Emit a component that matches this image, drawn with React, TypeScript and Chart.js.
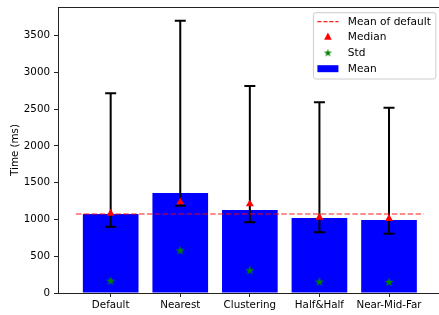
import React, { useEffect, useRef } from "react";
import { Chart, registerables } from "chart.js";

Chart.register(...registerables);

const categories = ["Default", "Nearest", "Clustering", "Half&Half", "Near-Mid-Far"];
const means = [1075, 1360, 1129, 1020, 993];
const errLow = [902, 1188, 961, 825, 807];
const errHigh = [2716, 3703, 2815, 2593, 2520];
const medians = [1083, 1237, 1210, 1029, 1010];
const stds = [167, 580, 309, 154, 150];
const meanOfDefault = 1075;
const yTicks = [0, 500, 1000, 1500, 2000, 2500, 3000, 3500];

const FONT = "'DejaVu Sans', sans-serif";
const FS = 10.3;
const LFS = 10.6;
const AX = "#222";

function makeStar(r: number, color: string) {
  const size = Math.ceil(r * 2 + 2);
  const c = document.createElement("canvas");
  c.width = size;
  c.height = size;
  const ctx = c.getContext("2d")!;
  const cx = size / 2, cy = size / 2 + 0.4;
  ctx.beginPath();
  for (let i = 0; i < 10; i++) {
    const rr = i % 2 === 0 ? r : r * 0.4;
    const a = -Math.PI / 2 + (i * Math.PI) / 5;
    const px = cx + rr * Math.cos(a);
    const py = cy + rr * Math.sin(a);
    if (i === 0) ctx.moveTo(px, py);
    else ctx.lineTo(px, py);
  }
  ctx.closePath();
  ctx.fillStyle = color;
  ctx.fill();
  return c;
}

export default function App() {
  const ref = useRef<HTMLCanvasElement>(null);
  useEffect(() => {
    const canvas = ref.current!;
    const star = makeStar(4.8, "#008000");
    const legendStar = makeStar(4.2, "#008000");

    const errorBars = {
      id: "errorBars",
      afterDatasetDraw(chart: any, args: any) {
        if (args.index !== 0) return;
        const { ctx, scales } = chart;
        const xs = scales.x, ys = scales.y;
        ctx.save();
        ctx.strokeStyle = "#000";
        ctx.lineWidth = 2;
        for (let i = 0; i < categories.length; i++) {
          const x = xs.getPixelForValue(i);
          const y1 = ys.getPixelForValue(errLow[i]);
          const y2 = ys.getPixelForValue(errHigh[i]);
          ctx.beginPath();
          ctx.moveTo(x, y1);
          ctx.lineTo(x, y2);
          ctx.moveTo(x - 5.5, y1);
          ctx.lineTo(x + 5.5, y1);
          ctx.moveTo(x - 5.5, y2);
          ctx.lineTo(x + 5.5, y2);
          ctx.stroke();
        }
        ctx.restore();
      },
    };

    const frame = {
      id: "frame",
      afterDraw(chart: any) {
        const { ctx, chartArea } = chart;
        ctx.save();
        ctx.strokeStyle = AX;
        ctx.lineWidth = 1;
        ctx.beginPath();
        ctx.moveTo(chartArea.left, Math.round(chartArea.top) + 0.5);
        ctx.lineTo(chartArea.right, Math.round(chartArea.top) + 0.5);
        ctx.stroke();

        // legend
        const labels = ["Mean of default", "Median", "Std", "Mean"];
        ctx.font = `${LFS}px ${FONT}`;
        const tw = Math.max(...labels.map((l) => ctx.measureText(l).width));
        const boxRight = chartArea.right - 5.3;
        const textX = boxRight - 5 - tw;
        const boxLeft = textX - 34.4;
        const boxTop = chartArea.top + 5.7;
        const boxH = 66.3;
        const r = 2.5;
        ctx.beginPath();
        ctx.moveTo(boxLeft + r, boxTop);
        ctx.arcTo(boxRight, boxTop, boxRight, boxTop + boxH, r);
        ctx.arcTo(boxRight, boxTop + boxH, boxLeft, boxTop + boxH, r);
        ctx.arcTo(boxLeft, boxTop + boxH, boxLeft, boxTop, r);
        ctx.arcTo(boxLeft, boxTop, boxRight, boxTop, r);
        ctx.closePath();
        ctx.fillStyle = "rgba(255,255,255,0.8)";
        ctx.fill();
        ctx.strokeStyle = "#cccccc";
        ctx.lineWidth = 1;
        ctx.stroke();

        const rows = [9, 24.3, 40, 56].map((d) => boxTop + d);
        const hx0 = textX - 30.4, hx1 = textX - 9.4, hc = (hx0 + hx1) / 2;
        ctx.save();
        ctx.strokeStyle = "rgba(255,0,0,0.9)";
        ctx.lineWidth = 1.2;
        ctx.setLineDash([4, 2]);
        ctx.beginPath();
        ctx.moveTo(hx0, rows[0]);
        ctx.lineTo(hx1, rows[0]);
        ctx.stroke();
        ctx.restore();
        const tr = 4.4;
        ctx.fillStyle = "#ff0000";
        ctx.beginPath();
        ctx.moveTo(hc, rows[1] - tr);
        ctx.lineTo(hc + tr * 0.866, rows[1] + tr * 0.5 + 0.5);
        ctx.lineTo(hc - tr * 0.866, rows[1] + tr * 0.5 + 0.5);
        ctx.closePath();
        ctx.fill();
        ctx.drawImage(legendStar, hc - legendStar.width / 2, rows[2] - legendStar.height / 2);
        ctx.fillStyle = "#0000ff";
        ctx.fillRect(hx0, rows[3] - 3.5, hx1 - hx0, 7);
        ctx.fillStyle = "#000";
        ctx.textBaseline = "middle";
        ctx.textAlign = "left";
        labels.forEach((l, i) => ctx.fillText(l, textX, rows[i] + 0.5));
        ctx.restore();
      },
    };

    const chart = new Chart(canvas, {
      type: "bar",
      data: {
        datasets: [
          {
            type: "bar",
            label: "Mean",
            data: means.map((m, i) => ({ x: i, y: m })),
            backgroundColor: "#0000ff",
            borderWidth: 0,
            barPercentage: 0.8,
            categoryPercentage: 1,
            order: 4,
          } as any,
          {
            type: "line",
            label: "Mean of default",
            data: [
              { x: -0.5, y: meanOfDefault },
              { x: 4.5, y: meanOfDefault },
            ],
            borderColor: "rgba(255,0,0,0.6)",
            borderWidth: 1.5,
            borderDash: [5.5, 2.4],
            pointRadius: 0,
            order: 3,
          },
          {
            type: "line",
            label: "Median",
            data: medians.map((m, i) => ({ x: i, y: m })),
            showLine: false,
            pointStyle: "triangle",
            pointRadius: 4.6,
            pointBackgroundColor: "#ff0000",
            pointBorderWidth: 0,
            borderColor: "#ff0000",
            order: 2,
          },
          {
            type: "line",
            label: "Std",
            data: stds.map((m, i) => ({ x: i, y: m })),
            showLine: false,
            pointStyle: star as any,
            pointRadius: 4.8,
            order: 1,
          },
        ],
      },
      options: {
        animation: false,
        responsive: false,
        devicePixelRatio: 1,
        events: [],
        layout: { padding: { top: 7, left: 0, right: 0, bottom: 0 } },
        plugins: { legend: { display: false }, tooltip: { enabled: false } },
        scales: {
          x: {
            type: "linear",
            offset: false,
            min: -0.757,
            max: 4.75,
            afterBuildTicks: (s: any) => {
              s.ticks = categories.map((_, i) => ({ value: i }));
            },
            afterFit: (s: any) => {
              s.height = 22;
              s.paddingLeft = 0;
              s.paddingRight = 0;
            },
            ticks: {
              callback: (v: any) => categories[v] ?? "",
              font: { family: FONT, size: FS },
              color: "#000",
              padding: 2,
              autoSkip: false,
              maxRotation: 0,
            },
            grid: {
              display: true,
              offset: false,
              drawOnChartArea: false,
              drawTicks: true,
              tickLength: 4,
              color: AX,
              tickColor: AX,
            },
            border: { display: true, color: AX, width: 1 },
          },
          y: {
            min: 0,
            max: 3889,
            afterBuildTicks: (s: any) => {
              s.ticks = yTicks.map((v) => ({ value: v }));
            },
            afterFit: (s: any) => {
              s.width = 58;
              s.paddingTop = 0;
              s.paddingBottom = 0;
            },
            ticks: {
              font: { family: FONT, size: FS },
              color: "#000",
              padding: 4,
              callback: (v: any) => String(v),
            },
            grid: {
              display: true,
              drawOnChartArea: false,
              drawTicks: true,
              tickLength: 4,
              color: AX,
              tickColor: AX,
            },
            border: { display: true, color: AX, width: 1 },
            title: {
              display: true,
              text: "Time (ms)",
              font: { family: FONT, size: FS },
              color: "#000",
              padding: { top: 9, bottom: 0 },
            },
          },
        },
      },
      plugins: [errorBars, frame],
    });
    return () => chart.destroy();
  }, []);

  return (
    <div
      style={{
        position: "fixed",
        left: 0,
        top: 0,
        width: 439,
        height: 315,
        overflow: "hidden",
        background: "#fff",
      }}
    >
      <canvas ref={ref} width={447} height={315} style={{ display: "block" }} />
    </div>
  );
}
